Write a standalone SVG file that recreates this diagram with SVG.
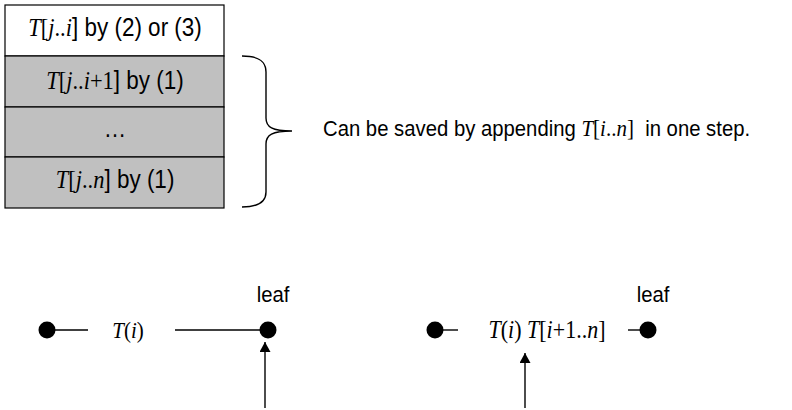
<svg xmlns="http://www.w3.org/2000/svg" width="792" height="410" viewBox="0 0 792 410">
<style>
text{font-family:"Liberation Sans",Arial,sans-serif;font-size:20.3px;fill:#000}
.t{font-size:22.5px}
.s{font-family:"Liberation Serif","Times New Roman",serif;font-size:21px}
.t .s,.t .i{font-size:22.5px}
.i{font-family:"Liberation Serif","Times New Roman",serif;font-style:italic;font-size:21px}
.r{font-size:22px}
.r .i{font-size:22px}
.cell{stroke:#000;stroke-width:1.2}
.line{stroke:#000;stroke-width:1.4;fill:none}
</style>
<defs>
<marker id="ah" markerWidth="11" markerHeight="12" refX="10" refY="5.5" orient="auto" markerUnits="userSpaceOnUse">
<path d="M0,0 L10,5.5 L0,11 Z" fill="#000"/>
</marker>
</defs>
<rect width="792" height="410" fill="#fff"/>
<g id="stack">
<g id="row1"><rect class="cell" x="5" y="5" width="219" height="51" fill="#fff"/>
<text class="t" text-anchor="middle" transform="translate(115,36) scale(1,1.12)"><tspan class="i">T</tspan><tspan class="s">[</tspan><tspan class="i">j</tspan><tspan class="s">..</tspan><tspan class="i">i</tspan>] by (2) or (3)</text></g>
<g id="row2"><rect class="cell" x="5" y="56" width="219" height="51" fill="#c0c0c0"/>
<text class="t" text-anchor="middle" transform="translate(115,89) scale(1,1.12)"><tspan class="i">T</tspan><tspan class="s">[</tspan><tspan class="i">j</tspan><tspan class="s">..</tspan><tspan class="i">i</tspan><tspan class="s">+1</tspan>] by (1)</text></g>
<g id="row3"><rect class="cell" x="5" y="107" width="219" height="50" fill="#c0c0c0"/>
<text class="t" text-anchor="middle" transform="translate(115,137) scale(1,1.12)">…</text></g>
<g id="row4"><rect class="cell" x="5" y="157" width="219" height="51" fill="#c0c0c0"/>
<text class="t" text-anchor="middle" transform="translate(115,188) scale(1,1.12)"><tspan class="i">T</tspan><tspan class="s">[</tspan><tspan class="i">j</tspan><tspan class="s">..</tspan><tspan class="i">n</tspan>] by (1)</text></g>
</g>
<g id="brace">
<path class="line" d="M242,56 C260,56 266,62 266,72 L266,118 C266,127 272,131 292,131 C272,131 266,135 266,144 L266,192 C266,201 260,207 242,207"/>
<text xml:space="preserve" transform="translate(323,136) scale(1,1.12)">Can be saved by appending <tspan class="i">T</tspan><tspan class="s">[</tspan><tspan class="i">i</tspan><tspan class="s">..</tspan><tspan class="i">n</tspan><tspan class="s">]</tspan>  in one step.</text>
</g>
<g id="left-a"><circle cx="47" cy="330" r="8.5" fill="#000"/></g>
<g id="left-leaf"><circle cx="268" cy="330" r="8.5" fill="#000"/>
<text text-anchor="middle" transform="translate(273,302) scale(1,1.12)">leaf</text></g>
<g id="left-label"><text class="s" text-anchor="middle" transform="translate(128,338) scale(1,1.12)"><tspan class="i">T</tspan>(<tspan class="i">i</tspan>)</text></g>
<g id="right-a"><circle cx="435" cy="330" r="8.5" fill="#000"/></g>
<g id="right-leaf"><circle cx="648" cy="330" r="8.5" fill="#000"/>
<text text-anchor="middle" transform="translate(653,302) scale(1,1.12)">leaf</text></g>
<g id="right-label"><text class="s r" text-anchor="middle" transform="translate(547,338) scale(1,1.12)"><tspan class="i">T</tspan>(<tspan class="i">i</tspan>) <tspan class="i">T</tspan>[<tspan class="i">i</tspan>+1..<tspan class="i">n</tspan>]</text></g>
<g id="connectors">
<line class="line" x1="47" y1="330" x2="88" y2="330"/>
<line class="line" x1="175" y1="330" x2="268" y2="330"/>
<line class="line" x1="435" y1="330" x2="458" y2="330"/>
<line class="line" x1="628" y1="330" x2="648" y2="330"/>
<line class="line" x1="265" y1="408" x2="265" y2="342" marker-end="url(#ah)"/>
<line class="line" x1="525" y1="408" x2="525" y2="353" marker-end="url(#ah)"/>
</g>
</svg>
